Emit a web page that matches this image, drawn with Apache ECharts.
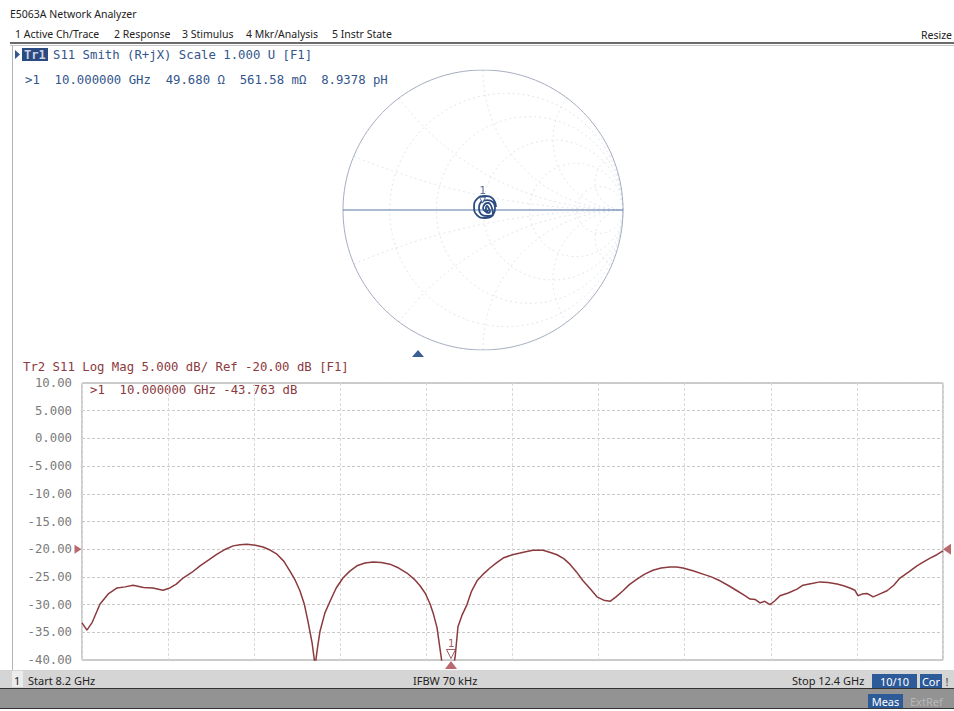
<!DOCTYPE html>
<html>
<head>
<meta charset="utf-8">
<script src="https://cdn.jsdelivr.net/npm/echarts@6/dist/echarts.min.js"></script>
<style>
  html, body { margin: 0; padding: 0; background: #fff; }
  #main { width: 954px; height: 711px; }
</style>
</head>
<body>
<div id="main"></div>
<script>
var chartDom = document.getElementById("main");
var myChart = echarts.init(chartDom, null, { renderer: "svg" });
var option;

// Tr2: S11 log mag (GHz / dB)
const freqGHz = [
  8.200, 8.224, 8.250, 8.288, 8.330, 8.371, 8.410, 8.449, 8.500, 8.546,
  8.595, 8.629, 8.660, 8.693, 8.735, 8.776, 8.820, 8.859, 8.900, 8.937,
  8.970, 9.005, 9.045, 9.083, 9.120, 9.151, 9.185, 9.215, 9.240, 9.263,
  9.285, 9.302, 9.322, 9.337, 9.350, 9.361, 9.385, 9.410, 9.440, 9.473,
  9.505, 9.541, 9.580, 9.620, 9.660, 9.702, 9.745, 9.785, 9.820, 9.849,
  9.875, 9.898, 9.915, 9.932, 9.956, 9.980, 10.000, 10.020, 10.034, 10.055,
  10.078, 10.100, 10.127, 10.160, 10.190, 10.220, 10.254, 10.300, 10.337, 10.370,
  10.400, 10.449, 10.485, 10.517, 10.550, 10.580, 10.612, 10.644, 10.680, 10.712,
  10.745, 10.776, 10.805, 10.839, 10.870, 10.907, 10.945, 10.985, 11.025, 11.068,
  11.100, 11.132, 11.180, 11.229, 11.270, 11.312, 11.355, 11.395, 11.430, 11.459,
  11.485, 11.507, 11.530, 11.556, 11.580, 11.605, 11.645, 11.688, 11.717, 11.760,
  11.800, 11.840, 11.883, 11.915, 11.946, 11.970, 11.985, 12.005, 12.029, 12.045,
  12.059, 12.090, 12.127, 12.160, 12.190, 12.230, 12.273, 12.305, 12.337, 12.370,
  12.400
];
const s11dB = [
  -33.3, -34.6, -33.2, -29.9, -28.0, -27.0, -26.8, -26.5, -26.9, -27.0,
  -27.4, -27.0, -26.3, -25.2, -24.2, -23.0, -21.9, -20.9, -20.0, -19.4,
  -19.2, -19.1, -19.3, -19.6, -20.2, -20.9, -22.2, -24.0, -25.6, -27.5,
  -30.0, -33.0, -36.8, -41.0, -37.5, -34.8, -31.5, -29.4, -27.0, -25.2,
  -24.0, -23.0, -22.5, -22.3, -22.4, -22.7, -23.4, -24.3, -25.4, -26.6,
  -28.0, -29.9, -31.8, -34.2, -40.5, -42.5, -43.763, -39.5, -34.0, -31.8,
  -30.0, -27.6, -25.7, -24.4, -23.4, -22.5, -21.6, -21.0, -20.7, -20.4,
  -20.2, -20.2, -20.6, -21.0, -21.7, -22.7, -24.1, -25.7, -27.2, -28.6,
  -29.2, -29.4, -28.6, -27.5, -26.4, -25.4, -24.5, -23.8, -23.4, -23.2,
  -23.2, -23.4, -23.9, -24.5, -25.0, -25.7, -26.6, -27.5, -28.3, -29.0,
  -29.1, -29.7, -29.4, -30.0, -29.3, -28.4, -27.9, -27.2, -26.5, -26.2,
  -25.9, -26.0, -26.3, -26.6, -27.0, -27.4, -28.4, -28.1, -28.0, -28.3,
  -28.6, -28.1, -27.5, -26.5, -25.2, -24.2, -23.0, -22.3, -21.6, -21.0,
  -20.3
];

// Tr1: S11 on the Smith chart, reflection coefficient (real / imag)
const smithRe = [
  0.093, 0.071, 0.014, -0.043, -0.064, -0.043, 0.014, 0.071,
  0.086, 0.071, 0.029, -0.014, -0.029, -0.014, 0.029, 0.071,
  0.064, 0.050, 0.036, 0.014, 0.000, 0.014, 0.036, 0.050,
  0.043, 0.029, 0.021, 0.029, 0.036
];
const smithIm = [
  0.021, 0.079, 0.100, 0.079, 0.021, -0.036, -0.057, -0.036,
  0.014, 0.057, 0.071, 0.057, 0.014, -0.029, -0.043, -0.029,
  0.014, 0.043, 0.050, 0.043, 0.014, -0.007, -0.021, -0.007,
  0.007, 0.029, 0.007, -0.014, 0.000
];

const yTickValues = [10, 5, 0, -5, -10, -15, -20, -25, -30, -35, -40];
const yTickLabels = ["10.00", "5.000", "0.000", "-5.000", "-10.00", "-15.00",
  "-20.00", "-25.00", "-30.00", "-35.00", "-40.00"];
const startGHz = 8.2;
const stopGHz = 12.4;
const refLevel = -20;
const markerGHz = 10.0;
const markerDb = -43.763;
const markerGamma = [-0.0032, 0.0056];
const smithR = [0.2, 0.5, 1, 2, 5];
const smithX = [0.2, 0.5, 1, 2, 5, -0.2, -0.5, -1, -2, -5];

const blue = "#33568c";
const red = "#8b3a3e";
const mono = "'DejaVu Sans Mono', monospace";
const ui = "'Noto Sans', sans-serif";

// Smith chart grid lines (constant r circles, constant x arcs)
function zToGamma(r, x) {
  const d = (r + 1) * (r + 1) + x * x;
  return [(r * r + x * x - 1) / d, (2 * x) / d];
}
const smithGrid = [];
smithR.forEach((r) => {
  const c = r / (1 + r), rad = 1 / (1 + r);
  const pts = [];
  for (let i = 0; i <= 120; i++) {
    const t = (i / 120) * Math.PI * 2;
    pts.push([c + rad * Math.cos(t), rad * Math.sin(t)]);
  }
  smithGrid.push(pts);
});
smithX.forEach((x) => {
  const pts = [];
  for (let i = 0; i < 90; i++) {
    pts.push(zToGamma(Math.tan((i / 90) * Math.PI / 2), x));
  }
  pts.push([1, 0]);
  smithGrid.push(pts);
});
const outer = [];
for (let i = 0; i <= 180; i++) {
  const t = (i / 180) * Math.PI * 2;
  outer.push([Math.cos(t), Math.sin(t)]);
}

const series = [];
smithGrid.forEach((pts) => {
  series.push({
    type: "line", xAxisIndex: 0, yAxisIndex: 0, data: pts, symbol: "none",
    silent: true, lineStyle: { color: "#d9dfea", width: 0.8, type: [2, 3] }
  });
});
series.push({
  type: "line", xAxisIndex: 0, yAxisIndex: 0, data: outer, symbol: "none",
  silent: true, lineStyle: { color: "#a4acbe", width: 1 }
});
series.push({
  type: "line", xAxisIndex: 0, yAxisIndex: 0, data: [[-1, 0], [1, 0]],
  symbol: "none", silent: true, lineStyle: { color: "#5a78aa", width: 1.2 }
});
series.push({
  type: "line", xAxisIndex: 0, yAxisIndex: 0, symbol: "none", smooth: 0.5,
  data: smithRe.map((v, i) => [v, smithIm[i]]),
  lineStyle: { color: "#2c4c80", width: 1.8 }, z: 5
});
series.push({
  type: "scatter", xAxisIndex: 0, yAxisIndex: 0, data: [markerGamma],
  symbol: "triangle", symbolSize: [6, 6], symbolRotate: 180, symbolOffset: [0, -9],
  itemStyle: { color: "#fff", borderColor: "#2c4c80", borderWidth: 1 },
  label: { show: true, position: "top", formatter: "1", color: "#2c4c80",
    fontFamily: mono, fontSize: 11, distance: 1 }, z: 6
});

// Tr2 trace and markers
series.push({
  type: "line", xAxisIndex: 2, yAxisIndex: 1, symbol: "none", clip: true,
  data: freqGHz.map((f, i) => [f, s11dB[i]]),
  lineStyle: { color: red, width: 1.5 }
});
series.push({
  type: "scatter", xAxisIndex: 2, yAxisIndex: 1, clip: false,
  data: [[markerGHz, Math.max(markerDb, -40)]],
  symbol: "triangle", symbolSize: [9, 9], symbolRotate: 180, symbolOffset: [0, -6],
  itemStyle: { color: "#fff", borderColor: red, borderWidth: 1 },
  label: { show: true, position: "top", formatter: "1", color: red,
    fontFamily: mono, fontSize: 11, distance: 0 }, z: 6
});
series.push({
  type: "scatter", xAxisIndex: 2, yAxisIndex: 1, clip: false,
  data: [[markerGHz, -40]], symbol: "triangle", symbolSize: [12, 8],
  symbolOffset: [0, 5], itemStyle: { color: "#a8424a" }, z: 6
});
series.push({
  type: "scatter", xAxisIndex: 2, yAxisIndex: 1, clip: false,
  data: [[startGHz, refLevel]], symbol: "triangle", symbolSize: [9, 7],
  symbolRotate: -90, symbolOffset: [-4, 0], itemStyle: { color: "#a8424a" }
});
series.push({
  type: "scatter", xAxisIndex: 2, yAxisIndex: 1, clip: false,
  data: [[stopGHz, refLevel]], symbol: "triangle", symbolSize: [11, 8],
  symbolRotate: 90, symbolOffset: [4, 0], itemStyle: { color: "#a8424a" }
});

// screen chrome
function txt(x, y, s, font, fill, align) {
  return {
    type: "text", x: x, y: y, silent: true,
    style: { text: s, font: font, fill: fill, align: align || "left",
      verticalAlign: "middle", textAlign: align || "left", textVerticalAlign: "middle" }
  };
}
function box(x, y, w, h, fill) {
  return { type: "rect", silent: true, shape: { x: x, y: y, width: w, height: h }, style: { fill: fill } };
}
const elements = [
  txt(10, 14, "E5063A Network Analyzer", "10.5px " + ui, "#222"),
  txt(15, 34, "1 Active Ch/Trace", "10.5px " + ui, "#222"),
  txt(114, 34, "2 Response", "10.5px " + ui, "#222"),
  txt(182, 34, "3 Stimulus", "10.5px " + ui, "#222"),
  txt(246, 34, "4 Mkr/Analysis", "10.5px " + ui, "#222"),
  txt(332, 34, "5 Instr State", "10.5px " + ui, "#222"),
  txt(952, 35, "Resize", "10.5px " + ui, "#222", "right"),
  box(10, 42, 944, 2, "#6a6a6a"),
  box(10, 45, 944, 1, "#c4c4c4"),
  box(12, 46, 1, 624, "#b4b4b4"),
  { type: "polygon", silent: true, shape: { points: [[15, 50], [15, 59], [20, 54.5]] }, style: { fill: blue } },
  box(22, 48, 26, 13, "#2b4a80"),
  txt(24, 55, "Tr1", "bold 12px " + mono, "#c9d2e4"),
  txt(53, 55, "S11 Smith (R+jX) Scale 1.000 U [F1]", "12.3px " + mono, blue),
  txt(25, 80, ">1  10.000000 GHz  49.680 \u03a9  561.58 m\u03a9  8.9378 pH", "12.3px " + mono, blue),
  { type: "polygon", silent: true, shape: { points: [[412, 357], [424, 357], [418, 350]] }, style: { fill: "#3b5e95" } },
  txt(23, 367, "Tr2 S11 Log Mag 5.000 dB/ Ref -20.00 dB [F1]", "12.3px " + mono, red),
  txt(90, 390, ">1  10.000000 GHz -43.763 dB", "12.3px " + mono, red),
  box(0, 670, 954, 18, "#d5d5d5"),
  box(12, 671, 11, 16, "#ececec"),
  txt(14, 680, "1", "11px " + ui, "#222"),
  txt(28, 680, "Start 8.2 GHz", "11px " + ui, "#222"),
  txt(413, 680, "IFBW 70 kHz", "11px " + ui, "#222"),
  txt(792, 680, "Stop 12.4 GHz", "11px " + ui, "#222"),
  box(872, 674, 45, 14, "#2d5a98"),
  txt(894.5, 681, "10/10", "11px " + ui, "#fff", "center"),
  box(920, 674, 22, 14, "#2d5a98"),
  txt(931, 681, "Cor", "11px " + ui, "#fff", "center"),
  txt(947, 681, "!", "11px " + ui, "#444", "center"),
  box(0, 688, 954, 1, "#333"),
  box(0, 689, 954, 19, "#939393"),
  box(0, 708, 954, 1, "#333"),
  box(868, 694, 35, 14, "#2d5a98"),
  txt(885.5, 701, "Meas", "11px " + ui, "#fff", "center"),
  txt(910, 701, "ExtRef", "11px " + ui, "#b8b8b8")
];

option = {
  backgroundColor: "#fff",
  animation: false,
  grid: [
    { left: 343, top: 70, width: 280, height: 280, show: false },
    { left: 82, top: 383, width: 861, height: 277, show: true,
      borderColor: "#9a9a9a", borderWidth: 1, backgroundColor: "transparent" }
  ],
  xAxis: [
    { gridIndex: 0, type: "value", min: -1, max: 1, show: false },
    { gridIndex: 1, type: "value", min: 0, max: 10, interval: 1,
      axisLine: { show: false }, axisTick: { show: false }, axisLabel: { show: false },
      splitLine: { show: true, lineStyle: { color: "#dadada", width: 1, type: [3, 2] } } },
    { gridIndex: 1, type: "value", min: startGHz, max: stopGHz, show: false }
  ],
  yAxis: [
    { gridIndex: 0, type: "value", min: -1, max: 1, show: false },
    { gridIndex: 1, type: "value", min: -40, max: 10, interval: 5,
      axisLine: { show: false }, axisTick: { show: false },
      axisLabel: { margin: 10, color: "#7a7a7a", fontFamily: mono, fontSize: 12.3,
        formatter: (v) => yTickLabels[yTickValues.indexOf(Math.round(v))] },
      splitLine: { show: true, lineStyle: { color: "#c8c8c8", width: 1, type: [3, 2] } } }
  ],
  series,
  graphic: { elements }
};

option && myChart.setOption(option);
</script>
</body>
</html>
